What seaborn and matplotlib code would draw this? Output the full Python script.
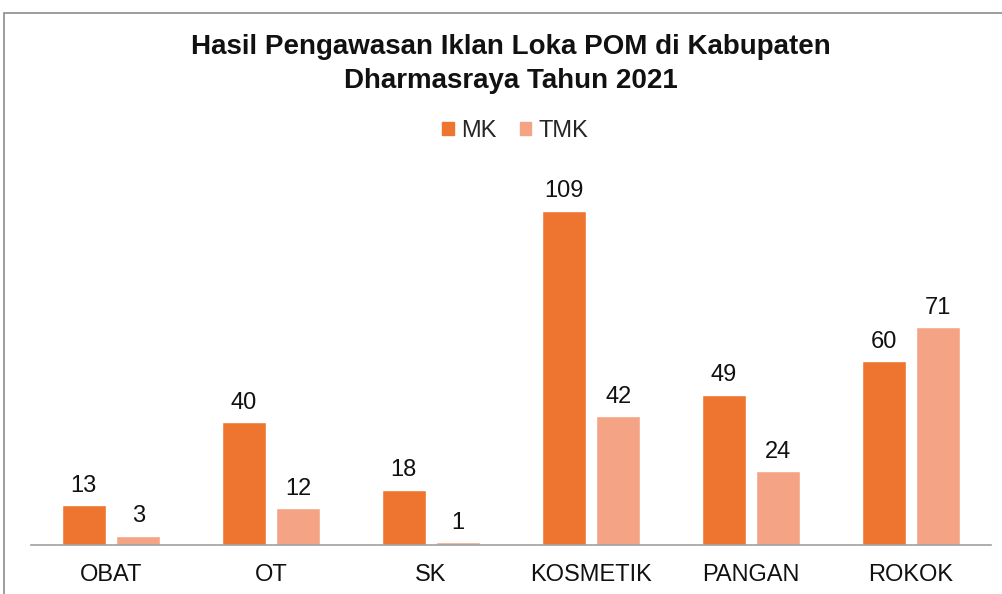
import pandas as pd
import matplotlib.pyplot as plt
import seaborn as sns
from matplotlib.patches import Rectangle

# chart data
categories = ['OBAT', 'OT', 'SK', 'KOSMETIK', 'PANGAN', 'ROKOK']
mk_values = [13, 40, 18, 109, 49, 60]
tmk_values = [3, 12, 1, 42, 24, 71]
series_names = ['MK', 'TMK']
title_text = 'Hasil Pengawasan Iklan Loka POM di Kabupaten\nDharmasraya Tahun 2021'

df = pd.DataFrame({
    'kategori': categories * 2,
    'nilai': mk_values + tmk_values,
    'seri': [series_names[0]] * len(categories) + [series_names[1]] * len(categories),
})

sns.set_theme(style='white')
plt.rcParams['font.family'] = ['Liberation Sans', 'DejaVu Sans']

fig = plt.figure(figsize=(10.02, 5.94), dpi=100)
ax = fig.add_axes([31 / 1002, 49 / 594, 960 / 1002, 368 / 594])

palette = {'MK': '#ED7530', 'TMK': '#F5A385'}
sns.barplot(data=df, x='kategori', y='nilai', hue='seri', palette=palette,
            width=0.68, gap=0.2, ax=ax, legend=False, saturation=1)

for cont in ax.containers:
    ax.bar_label(cont, padding=6, fontsize=17, color='#111111')

ax.set_ylim(0, 120)
ax.set_xlim(-0.5, len(categories) - 0.5)
ax.set_xlabel('')
ax.set_ylabel('')
ax.set_yticks([])
ax.tick_params(axis='x', length=0, labelsize=17, pad=14, colors='#111111')
for side in ['top', 'left', 'right']:
    ax.spines[side].set_visible(False)
ax.spines['bottom'].set_color('#A0A0A0')
ax.spines['bottom'].set_linewidth(1.2)

# title and legend
fig.text(0.51, 1 - 64 / 594, title_text, ha='center', va='center',
         fontsize=20, fontweight='bold', linespacing=1.38, color='#111111')
handles = [Rectangle((0, 0), 1, 1, color=palette[s]) for s in series_names]
fig.legend(handles, series_names, loc='center', bbox_to_anchor=(0.514, 1 - 131 / 594),
           ncol=2, frameon=False, fontsize=17, handlelength=0.5, handleheight=0.5,
           handletextpad=0.3, columnspacing=1.0)

# chart border
fig.patches.append(Rectangle((4 / 1002, -0.05), 1.1, 1 - 13 / 594 + 0.05,
                             transform=fig.transFigure, fill=False,
                             edgecolor='#8C8C8C', linewidth=1.2))

fig.savefig('out.png', dpi=100)
